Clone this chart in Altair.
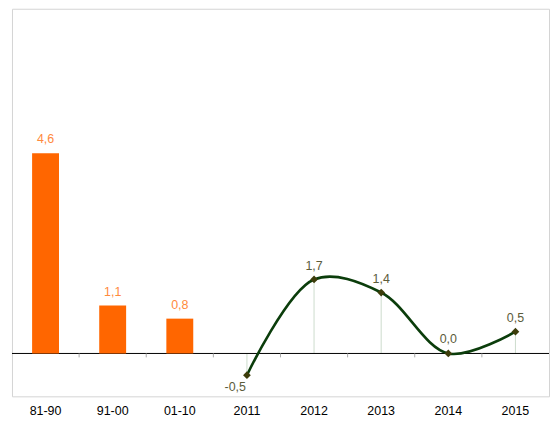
import altair as alt
import pandas as pd

categories = ["81-90", "91-00", "01-10", "2011", "2012", "2013", "2014", "2015"]
bar_cats = ["81-90", "91-00", "01-10"]
bar_vals = [4.6, 1.1, 0.8]
line_cats = ["2011", "2012", "2013", "2014", "2015"]
line_vals = [-0.5, 1.7, 1.4, 0.0, 0.5]

def fmt(v):
    return f"{v:.1f}".replace(".", ",")

bars = pd.DataFrame({"cat": bar_cats, "val": bar_vals, "lab": [fmt(v) for v in bar_vals]})
line = pd.DataFrame({"cat": line_cats, "val": line_vals, "lab": [fmt(v) for v in line_vals],
                     "base": [0.0] * len(line_cats)})
bounds = pd.DataFrame({"cat": categories[1:], "base": [0.0] * 7, "low": [-0.09] * 7})
zero_df = pd.DataFrame({"val": [0.0]})

FONT = "Liberation Sans Narrow, Liberation Sans, Arial"

xscale = alt.Scale(domain=categories, paddingInner=0, paddingOuter=0)
yscale = alt.Scale(domain=[-0.985, 7.92], nice=False, zero=False)

xenc = alt.X("cat:N", scale=xscale, sort=categories, bandPosition=0.5,
             axis=alt.Axis(title=None, domain=False, ticks=False, grid=False,
                           labelAngle=0, labelFontSize=12.5, labelColor="#000000",
                           labelFont=FONT, labelPadding=8))
yenc = alt.Y("val:Q", scale=yscale, axis=None)

zero = alt.Chart(zero_df).mark_rule(color="#000000", strokeWidth=1).encode(y=yenc)

ticks = alt.Chart(bounds).mark_rule(color="#aaaaaa", strokeWidth=1).encode(
    x=alt.X("cat:N", scale=xscale, sort=categories, bandPosition=0),
    y=alt.Y("base:Q", scale=yscale, axis=None),
    y2="low:Q",
)

drops = alt.Chart(line).mark_rule(color="#cddccd", strokeWidth=1).encode(
    x=xenc, y=yenc, y2="base:Q")

bar = alt.Chart(bars).mark_bar(color="#ff6600", size=27).encode(x=xenc, y=yenc)

bar_text = alt.Chart(bars).mark_text(color="#ff8a3d", fontSize=12.5, font=FONT,
                                     baseline="bottom", dy=-7).encode(x=xenc, y=yenc, text="lab:N")

ln = alt.Chart(line).mark_line(color="#0b3d0b", strokeWidth=2.6, interpolate="catmull-rom").encode(
    x=xenc, y=yenc)

pts = alt.Chart(line).mark_point(shape="diamond", filled=True, color="#3d3d0b", size=60, opacity=1).encode(
    x=xenc, y=yenc)

lab_pos = alt.Chart(line).transform_filter("datum.val >= 0").mark_text(
    color="#5c5c3a", fontSize=12.5, font=FONT, baseline="bottom", dy=-7).encode(x=xenc, y=yenc, text="lab:N")

lab_neg = alt.Chart(line).transform_filter("datum.val < 0").mark_text(
    color="#5c5c3a", fontSize=12.5, font=FONT, baseline="top", align="right", dy=6, dx=-1).encode(
    x=xenc, y=yenc, text="lab:N")

chart = alt.layer(drops, zero, ticks, bar, bar_text, ln, pts, lab_pos, lab_neg).properties(
    width=539, height=389,
    padding={"left": 3, "top": 0, "right": 0, "bottom": 0},
    background="white",
).configure_view(stroke="#d4d4d4", strokeWidth=1)

chart.save("out.html", embed_options={"renderer": "svg", "actions": False})
